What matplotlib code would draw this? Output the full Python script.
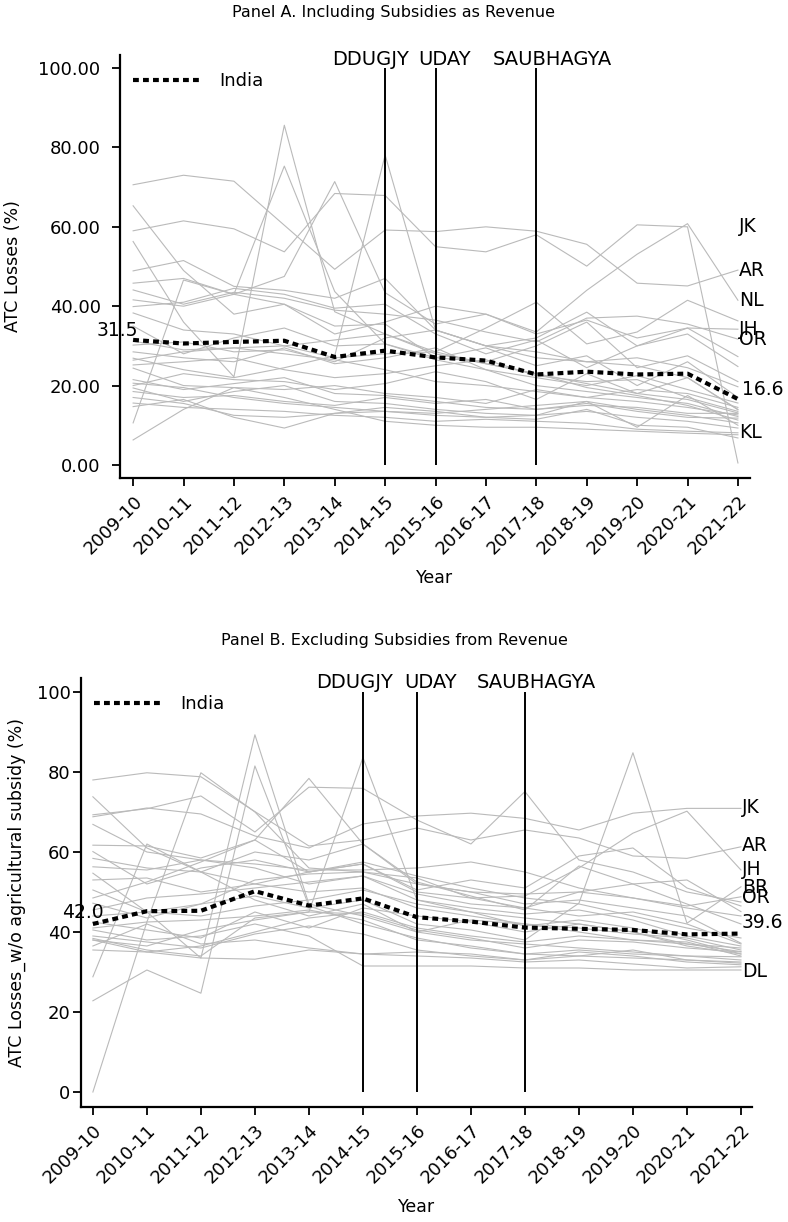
import matplotlib
matplotlib.use("Agg")
import matplotlib.pyplot as plt
import matplotlib.ticker as mticker

years = ["2009-10", "2010-11", "2011-12", "2012-13", "2013-14", "2014-15", "2015-16",
         "2016-17", "2017-18", "2018-19", "2019-20", "2020-21", "2021-22"]
events = ["DDUGJY", "UDAY", "SAUBHAGYA"]
event_years = ["2014-15", "2015-16", "2017-18"]

# Panel A: including subsidies as revenue
india_a = [31.5, 30.6, 31.0, 31.3, 27.2, 28.8, 27.1, 26.3, 22.8, 23.5, 22.8, 23.0, 16.6]
states_a = ["JK", "AR", "NL", "MN", "MZ", "BR", "ML", "KL", "JH", "OR", "UP", "TR", "MP", "SK",
            "RJ", "AS", "WB", "HR", "TN", "GJ", "PB", "HP", "GA", "KA", "TS", "CG", "DL", "MH"]
losses_a = [
    [59.0, 61.5, 59.5, 53.7, 68.4, 67.9, 55.0, 53.7, 58.0, 50.1, 60.5, 60.0, 0.5],
    [70.6, 73.0, 71.5, 60.4, 49.3, 59.2, 58.8, 60.0, 58.9, 55.6, 45.8, 45.1, 49.1],
    [65.3, 49.0, 38.0, 40.5, 33.0, 36.0, 40.0, 38.0, 33.5, 44.0, 53.1, 60.8, 41.5],
    [56.3, 36.0, 22.2, 85.6, 38.6, 33.0, 28.0, 25.5, 23.0, 20.5, 18.0, 16.5, 13.1],
    [10.6, 46.6, 43.0, 75.3, 43.7, 30.5, 26.5, 24.0, 20.0, 18.5, 17.0, 15.5, 12.2],
    [41.6, 40.0, 43.0, 47.5, 71.4, 43.4, 35.5, 38.0, 33.0, 36.5, 32.0, 34.5, 27.3],
    [26.9, 24.0, 22.0, 24.5, 27.5, 78.1, 34.0, 30.0, 27.0, 26.0, 25.0, 22.0, 13.9],
    [15.6, 14.5, 14.0, 13.5, 12.5, 12.0, 11.0, 11.5, 11.0, 10.5, 9.0, 8.5, 8.1],
    [48.9, 51.5, 45.0, 44.0, 42.0, 47.0, 34.0, 30.0, 32.0, 38.5, 30.0, 34.5, 34.2],
    [44.1, 40.5, 43.5, 42.0, 39.0, 38.0, 36.5, 33.5, 31.0, 37.0, 37.5, 35.5, 31.7],
    [39.9, 41.0, 44.5, 43.0, 39.5, 40.5, 33.0, 28.0, 31.5, 24.5, 30.0, 33.0, 24.8],
    [38.3, 34.0, 33.0, 30.0, 31.5, 33.0, 28.5, 34.5, 41.0, 30.5, 33.5, 41.5, 36.3],
    [45.8, 47.0, 43.0, 40.5, 35.0, 35.5, 27.0, 26.0, 30.0, 36.0, 24.5, 27.5, 21.0],
    [30.2, 31.0, 28.5, 29.0, 26.0, 32.0, 34.0, 30.0, 28.5, 26.0, 27.0, 24.5, 19.7],
    [28.5, 27.0, 26.0, 29.5, 25.5, 27.0, 29.5, 24.0, 22.0, 20.0, 22.5, 19.0, 15.6],
    [26.4, 28.5, 29.5, 28.0, 26.5, 24.0, 21.0, 20.0, 18.5, 17.0, 19.0, 18.0, 14.5],
    [25.2, 26.0, 27.0, 24.0, 22.0, 23.0, 25.0, 26.5, 22.5, 21.0, 21.5, 17.0, 13.5],
    [31.2, 29.0, 29.5, 30.0, 27.0, 28.0, 28.5, 25.5, 23.0, 19.5, 17.5, 15.0, 11.3],
    [20.6, 19.5, 17.0, 15.5, 14.5, 13.5, 13.0, 14.0, 15.0, 16.0, 14.0, 12.5, 10.6],
    [19.4, 16.0, 18.5, 20.0, 16.0, 15.5, 14.0, 13.0, 12.5, 13.5, 12.0, 11.0, 9.3],
    [18.5, 17.0, 17.5, 16.0, 15.0, 17.0, 15.5, 16.5, 14.0, 15.0, 14.5, 13.0, 13.0],
    [17.0, 15.5, 12.5, 12.0, 13.0, 14.5, 13.5, 12.0, 12.5, 16.0, 9.5, 17.5, 10.0],
    [14.7, 16.5, 12.0, 9.3, 13.0, 13.5, 12.5, 12.0, 11.5, 14.0, 10.0, 9.5, 6.8],
    [6.3, 14.0, 19.5, 19.0, 20.0, 18.0, 17.0, 15.5, 19.0, 17.0, 16.0, 14.5, 12.6],
    [20.0, 23.0, 21.5, 21.0, 19.0, 20.5, 23.5, 21.0, 16.5, 23.0, 18.0, 22.0, 14.0],
    [35.0, 28.0, 32.0, 34.5, 30.0, 30.5, 27.0, 29.5, 25.0, 27.5, 20.0, 26.0, 17.0],
    [24.4, 20.0, 19.5, 17.0, 14.0, 11.0, 10.0, 9.5, 9.5, 9.0, 8.5, 8.0, 7.6],
    [21.5, 19.0, 20.5, 22.0, 18.0, 17.5, 16.0, 14.5, 14.0, 15.5, 13.5, 12.0, 11.8],
]
labels_a = ["JK", "AR", "NL", "JH", "OR", "KL"]
label_y_a = [60.0, 49.1, 41.5, 34.2, 31.7, 8.1]

# Panel B: excluding subsidies from revenue
india_b = [42.0, 45.2, 45.3, 50.2, 46.6, 48.4, 43.7, 42.6, 41.1, 40.8, 40.5, 39.4, 39.6]
states_b = ["JK", "AR", "MN", "MZ", "PY", "NL", "ML", "JH", "OR", "TR", "BR", "UP", "CG", "TS",
            "RJ", "AS", "KA", "DL", "TN", "GJ", "PB", "HR", "MP", "WB", "SK", "GA", "HP", "KL"]
losses_b = [
    [68.8, 71.0, 69.5, 64.0, 61.0, 67.0, 69.0, 69.7, 68.4, 65.5, 69.7, 70.9, 70.9],
    [78.0, 79.8, 78.8, 70.1, 61.5, 63.0, 66.0, 63.0, 65.5, 63.5, 59.0, 58.4, 61.3],
    [54.7, 45.0, 33.5, 89.3, 47.0, 44.0, 40.0, 38.0, 37.0, 36.0, 35.0, 34.0, 33.8],
    [22.8, 30.5, 24.7, 81.5, 46.5, 42.0, 38.5, 36.0, 34.5, 34.0, 33.5, 33.0, 32.2],
    [0.0, 42.5, 79.8, 70.0, 56.0, 55.0, 52.0, 50.0, 47.0, 48.0, 46.0, 44.0, 37.2],
    [48.5, 52.5, 57.5, 63.0, 78.4, 62.0, 52.0, 50.0, 49.5, 50.0, 52.0, 53.0, 45.1],
    [38.0, 36.5, 40.5, 43.0, 45.0, 83.6, 48.0, 45.0, 41.5, 43.0, 41.0, 38.0, 34.5],
    [61.7, 61.5, 58.5, 63.0, 55.0, 57.0, 50.0, 48.5, 49.0, 56.0, 64.7, 70.2, 55.5],
    [56.3, 55.5, 58.0, 57.0, 55.5, 55.5, 56.0, 57.5, 55.0, 51.0, 48.5, 46.5, 48.8],
    [60.1, 52.0, 56.0, 58.0, 55.0, 57.0, 50.5, 53.0, 51.0, 59.0, 61.0, 51.0, 46.5],
    [50.5, 45.0, 47.0, 49.0, 46.0, 48.0, 42.0, 40.5, 38.0, 47.2, 84.8, 42.2, 51.3],
    [66.9, 60.0, 58.0, 56.0, 52.0, 54.0, 49.5, 47.0, 46.0, 44.0, 45.0, 42.0, 37.0],
    [47.2, 43.5, 47.0, 53.0, 54.5, 55.0, 53.5, 48.5, 46.0, 50.0, 48.5, 46.0, 44.0],
    [28.8, 62.0, 55.0, 52.0, 50.0, 51.0, 46.0, 44.0, 42.0, 40.0, 38.0, 37.0, 35.1],
    [38.4, 35.5, 34.0, 43.5, 45.0, 44.5, 40.5, 38.5, 36.0, 38.0, 37.5, 36.0, 35.0],
    [38.0, 35.0, 36.5, 40.0, 43.5, 45.0, 41.0, 39.0, 37.5, 39.0, 38.0, 37.5, 34.0],
    [35.5, 35.0, 33.5, 33.2, 35.5, 34.5, 34.0, 33.5, 32.5, 33.0, 32.0, 31.0, 31.3],
    [40.5, 38.0, 39.0, 42.0, 39.0, 31.5, 31.5, 31.5, 31.0, 31.0, 30.5, 30.5, 30.5],
    [39.0, 37.5, 36.0, 39.5, 41.5, 39.5, 35.5, 34.0, 33.0, 35.0, 34.0, 32.5, 31.8],
    [41.0, 42.5, 43.0, 44.0, 45.5, 43.0, 38.0, 36.5, 34.5, 35.5, 34.5, 34.0, 33.0],
    [44.0, 45.0, 44.0, 46.5, 48.0, 50.5, 47.0, 45.0, 43.5, 42.0, 40.0, 37.0, 36.0],
    [53.0, 53.5, 50.0, 52.0, 55.0, 57.5, 54.0, 51.0, 48.5, 47.0, 44.0, 41.0, 38.5],
    [58.4, 56.0, 55.0, 60.0, 58.0, 62.0, 52.5, 49.0, 45.5, 56.5, 52.0, 47.0, 42.0],
    [42.5, 40.5, 38.5, 45.0, 41.0, 46.0, 44.0, 42.5, 40.0, 42.0, 40.0, 36.5, 34.5],
    [45.5, 48.5, 49.5, 51.0, 52.5, 54.0, 48.0, 46.0, 44.5, 45.5, 43.0, 39.0, 36.5],
    [73.8, 61.0, 55.0, 48.0, 44.0, 47.0, 40.0, 43.0, 42.0, 41.0, 39.5, 38.5, 35.5],
    [36.5, 42.0, 37.0, 38.0, 36.0, 34.5, 35.0, 34.5, 33.0, 34.0, 35.5, 33.0, 32.5],
    [69.3, 70.8, 74.0, 65.0, 76.2, 75.9, 68.0, 62.0, 75.1, 58.0, 55.0, 50.0, 47.5],
]
labels_b = ["JK", "AR", "JH", "BR", "OR", "DL"]
label_y_b = [71.0, 61.7, 55.5, 51.0, 48.5, 30.2]

GRAY = "#bababa"
x = list(range(len(years)))


def draw_panel(ax, values, india, labels, label_y, ylabel, yfmt, event_x, event_y,
               first_lab, last_lab, ypad, ylabelpad):
    for row in values:
        ax.plot(x, row, color=GRAY, lw=0.8, zorder=1)
    ax.plot(x, india, color="black", lw=3, linestyle=(0, (1.4, 1.0)), label="India", zorder=3)

    for ey in event_years:
        ax.vlines(years.index(ey), 0, 100, color="black", lw=1.4, zorder=2)
    for ev, ex in zip(events, event_x):
        ax.text(ex, event_y, ev, ha="center", va="baseline", fontsize=14)

    ax.text(first_lab[0], first_lab[1], f"{india[0]:.1f}", ha="center", va="baseline", fontsize=13.5)
    ax.text(last_lab[0], last_lab[1], f"{india[-1]:.1f}", ha="left", va="baseline", fontsize=13.5)
    for lab, ly in zip(labels, label_y):
        ax.annotate(lab, (x[-1], ly), xytext=(1, 0), textcoords="offset points",
                    ha="left", va="center", fontsize=13.5)

    ax.set_xticks(x)
    ax.set_xticklabels(years, rotation=45, ha="right", rotation_mode="anchor", fontsize=13)
    ax.set_yticks([0, 20, 40, 60, 80, 100])
    ax.yaxis.set_major_formatter(mticker.FormatStrFormatter(yfmt))
    ax.tick_params(axis="y", labelsize=13, length=6, width=1.3, pad=ypad)
    ax.tick_params(axis="x", length=6, width=1.3, pad=4)
    ax.set_xlabel("Year", fontsize=12.5, labelpad=8)
    ax.set_ylabel(ylabel, fontsize=12.5, labelpad=ylabelpad)
    for s in ["top", "right"]:
        ax.spines[s].set_visible(False)
    for s in ["left", "bottom"]:
        ax.spines[s].set_linewidth(1.6)
    ax.legend(loc="upper left", frameon=False, fontsize=13, handlelength=3.8,
              handletextpad=1.0, bbox_to_anchor=(0.0, 0.99), borderaxespad=0.3)


fig = plt.figure(figsize=(7.88, 12.22), dpi=100)
ax_a = fig.add_axes([0.1523, 0.6088, 0.7995, 0.3462])
ax_b = fig.add_axes([0.1028, 0.0941, 0.8512, 0.3511])

draw_panel(ax_a, losses_a, india_a, labels_a, label_y_a, "ATC Losses (%)", "%.2f",
           [4.72, 6.18, 8.32], 100.8, (-0.32, 32.5), (12.08, 17.6), 8, 12)
ax_a.set_xlim(-0.26, 12.24)
ax_a.set_ylim(-3.3, 103.3)

draw_panel(ax_b, losses_b, india_b, labels_b, label_y_b,
           "ATC Losses_w/o agricultural subsidy (%)", "%d",
           [4.84, 6.26, 8.22], 101.0, (-0.18, 43.5), (12.02, 41.0), 1.5, 8)
ax_b.set_xlim(-0.22, 12.2)
ax_b.set_ylim(-3.75, 103.5)

fig.text(0.5, 0.990, "Panel A. Including Subsidies as Revenue", ha="center", va="center", fontsize=11.5)
fig.text(0.5, 0.476, "Panel B. Excluding Subsidies from Revenue", ha="center", va="center", fontsize=11.5)

fig.savefig("out.png", dpi=100)
